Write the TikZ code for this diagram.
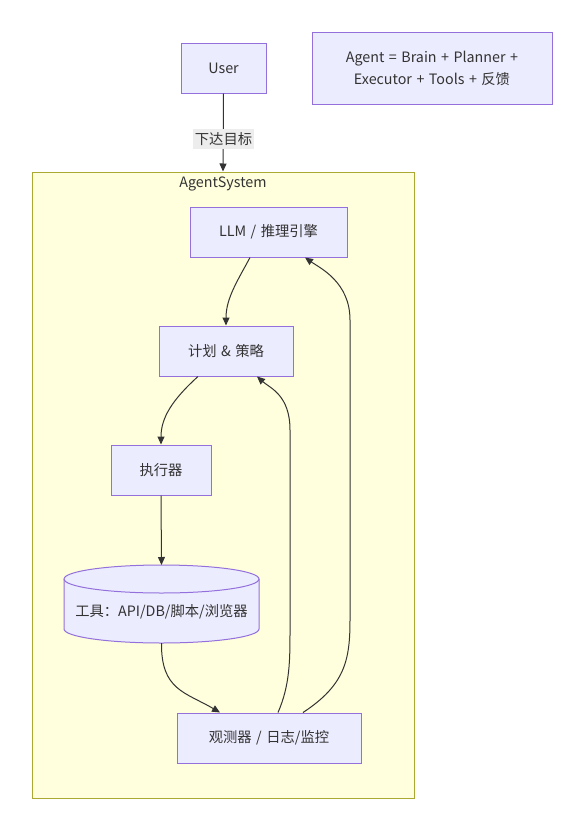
\documentclass[tikz,border=0pt]{standalone}
\usepackage{fontspec}
\setmainfont{Noto Sans CJK SC}[WordSpace={1.4}]
\usetikzlibrary{arrows.meta}
\definecolor{nodefill}{HTML}{ECECFF}
\definecolor{nodeline}{HTML}{9370DB}
\definecolor{clfill}{HTML}{FFFFDE}
\definecolor{clline}{HTML}{AAAA33}
\definecolor{txt}{HTML}{333333}
\definecolor{lblbg}{HTML}{EDEDED}
\tikzset{
  box/.style={draw=nodeline, fill=nodefill, line width=1pt, text=txt, inner sep=0pt, font=\fontsize{14.3pt}{18pt}\selectfont},
  conn/.style={draw=txt, line width=1pt, -{Triangle[length=8pt,width=7pt]}},
}
\begin{document}
\begin{tikzpicture}[x=1pt,y=-1pt]
\useasboundingbox (0,0) rectangle (584,838);
\fill[white] (0,0) rectangle (584,838);
% cluster
\node[draw=clline, fill=clfill, line width=1pt, minimum width=382pt, minimum height=626pt, inner sep=0pt] (sys) at (223,485) {};
\node[text=txt, font=\fontsize{14.3pt}{18pt}\selectfont, anchor=center] (systitle) at (223,184) {AgentSystem};
% nodes
\node[box, minimum width=85pt, minimum height=50pt] (user) at (223.5,68) {User};
\node[box, minimum width=240pt, minimum height=72pt, align=center, font=\fontsize{14.3pt}{22pt}\selectfont] (note) at (432,68) {Agent = Brain + Planner +\\Executor + Tools + 反馈};
\node[box, minimum width=157pt, minimum height=50pt] (llm) at (268.5,232) {LLM / 推理引擎};
\node[box, minimum width=134pt, minimum height=50pt] (plan) at (226,351) {计划 \& 策略};
\node[box, minimum width=100pt, minimum height=50pt] (exec) at (161,470) {执行器};
\node[minimum width=195pt, minimum height=78pt, inner sep=0pt] (toolsbox) at (161.5,604) {};
\fill[nodefill] (64,579) -- (64,629) arc[start angle=180, end angle=0, x radius=97.5, y radius=14] -- (259,579) arc[start angle=0, end angle=-180, x radius=97.5, y radius=14] -- cycle;
\draw[nodeline, line width=1pt] (64,579) -- (64,629) arc[start angle=180, end angle=0, x radius=97.5, y radius=14] -- (259,579) arc[start angle=0, end angle=-180, x radius=97.5, y radius=14] -- cycle;
\draw[nodeline, line width=1pt] (64,579) arc[start angle=180, end angle=0, x radius=97.5, y radius=14];
\node[text=txt, font=\fontsize{14.3pt}{18pt}\selectfont] (tools) at (161.5,612) {工具：API/DB/脚本/浏览器};
\node[box, minimum width=184pt, minimum height=50pt] (obs) at (269,738) {观测器 / 日志/监控};
% edges
\draw[conn] (user.south) -- (sys.north);
\node[fill=lblbg, text=txt, inner xsep=1.5pt, inner ysep=3pt, font=\fontsize{14.3pt}{18pt}\selectfont] (lbl) at (223.5,139) {下达目标};
\draw[conn] ([xshift=-18.5pt]llm.south) .. controls (238,280) and (226,298) .. (plan.north);
\draw[conn] ([xshift=-28pt]plan.south) .. controls (172,400) and (161,418) .. (exec.north);
\draw[conn] (exec.south) -- (161.5,565);
\draw[conn] (161.5,643) .. controls (161,690) and (185,692) .. ([xshift=-49pt]obs.north);
\draw[conn] ([xshift=9pt]obs.north) .. controls (290,685) and (290,660) .. (290,630) -- (290,430) .. controls (290,395) and (270,388) .. ([xshift=31pt]plan.south);
\draw[conn] ([xshift=34pt]obs.north) .. controls (345,685) and (350,660) .. (350,620) -- (350,320) .. controls (350,282) and (320,268) .. ([xshift=36.5pt]llm.south);
\end{tikzpicture}
\end{document}
